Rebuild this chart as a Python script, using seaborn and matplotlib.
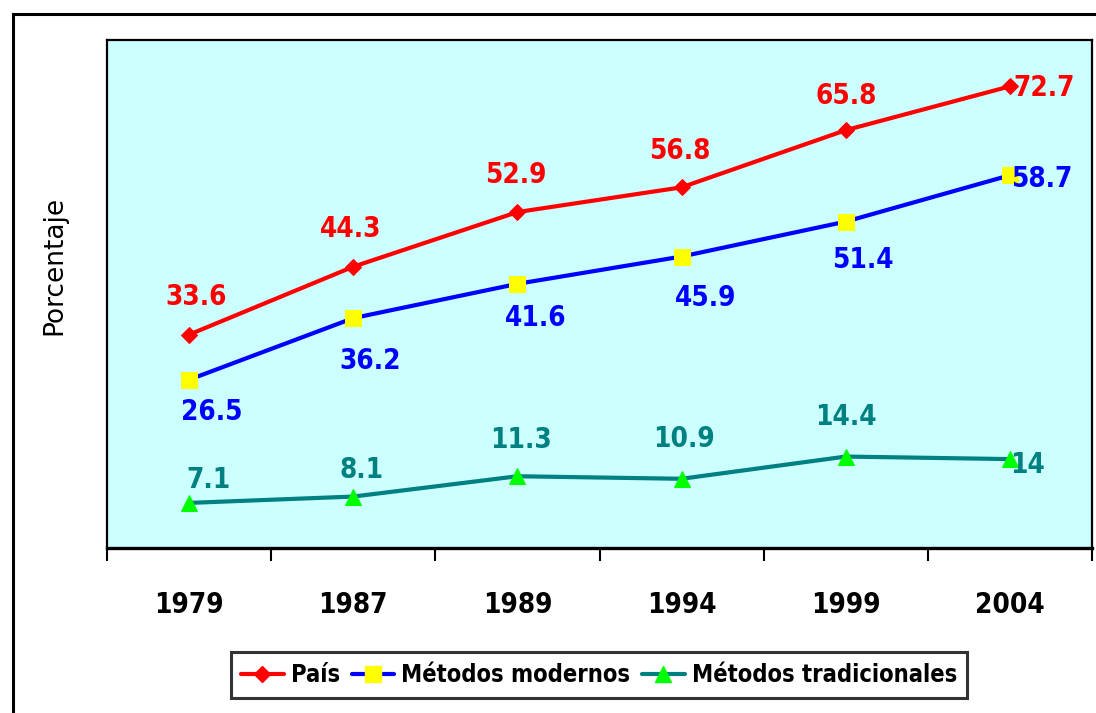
import matplotlib
matplotlib.use("Agg")
import matplotlib.pyplot as plt
import seaborn as sns
from matplotlib.lines import Line2D
from matplotlib.patches import Rectangle

years = ["1979", "1987", "1989", "1994", "1999", "2004"]
pais = [33.6, 44.3, 52.9, 56.8, 65.8, 72.7]
modernos = [26.5, 36.2, 41.6, 45.9, 51.4, 58.7]
tradicionales = [7.1, 8.1, 11.3, 10.9, 14.4, 14]
series_names = ["País", "Métodos modernos", "Métodos tradicionales"]

# label offsets in pixels (dx, dy) relative to each point
off_pais = [(7, 38), (-3, 38), (-2, 37), (-2, 36), (0, 34), (34, -2)]
off_mod = [(23, -32), (17, -43), (18, -34), (24, -41), (17, -38), (32, -4)]
off_trad = [(19, 23), (8, 27), (4, 36), (2, 40), (0, 40), (18, -6)]

sns.set_style("white")
plt.rcParams["font.family"] = ["DejaVu Sans"]
plt.rcParams["font.stretch"] = "condensed"
plt.rcParams["text.color"] = "black"

fig = plt.figure(figsize=(10.96, 7.13), dpi=100)
ax = fig.add_axes([107 / 1096, 1 - 548 / 713, 985 / 1096, 508 / 713])
ax.set_facecolor("#CCFFFF")

pos = list(range(len(years)))

sns.lineplot(x=pos, y=pais, ax=ax, color="#FF0000", linewidth=3,
             marker="D", markersize=8, markerfacecolor="#FF0000",
             markeredgecolor="#FF0000")
sns.lineplot(x=pos, y=modernos, ax=ax, color="#0000FF", linewidth=3,
             marker="s", markersize=12, markerfacecolor="#FFFF00",
             markeredgecolor="#FFFF00")
sns.lineplot(x=pos, y=tradicionales, ax=ax, color="#008080", linewidth=3,
             marker="^", markersize=12, markerfacecolor="#00FF00",
             markeredgecolor="#00FF00")

for vals, offs, col in [(pais, off_pais, "#FF0000"),
                        (modernos, off_mod, "#0000FF"),
                        (tradicionales, off_trad, "#008080")]:
    for i, v in enumerate(vals):
        ax.annotate(f"{v:g}", (pos[i], v), xytext=offs[i],
                    textcoords="offset pixels", ha="center", va="center",
                    color=col, fontsize=20, fontweight="bold",
                    fontstretch="condensed")

ax.set_xlim(-0.5, len(years) - 0.5)
ax.set_ylim(0, 80)
ax.set_yticks([])
ax.set_xticks(pos)
ax.set_xticklabels(years, fontsize=20, fontweight="bold",
                   fontstretch="condensed", color="black")
ax.set_xticks([p - 0.5 for p in pos] + [len(years) - 0.5], minor=True)
ax.tick_params(axis="x", which="major", length=0, pad=31)
ax.tick_params(axis="x", which="minor", length=9, width=1.5,
               direction="out", color="black", bottom=True)

for side in ["left", "top", "right"]:
    ax.spines[side].set_color("black")
    ax.spines[side].set_linewidth(1.6)
ax.spines["bottom"].set_color("black")
ax.spines["bottom"].set_linewidth(2.4)

ax.set_xlabel("")
ax.set_ylabel("Porcentaje", fontsize=19, family="DejaVu Sans",
              fontstretch="normal", color="black")
ax.yaxis.set_label_coords(-0.04, 0.557)

handles = [
    Line2D([], [], color="#FF0000", linewidth=3, marker="D", markersize=8,
           markerfacecolor="#FF0000", markeredgecolor="#FF0000"),
    Line2D([], [], color="#0000FF", linewidth=3, marker="s", markersize=12,
           markerfacecolor="#FFFF00", markeredgecolor="#FFFF00"),
    Line2D([], [], color="#008080", linewidth=3, marker="^", markersize=12,
           markerfacecolor="#00FF00", markeredgecolor="#00FF00"),
]
leg = fig.legend(handles, series_names, loc="center",
                 bbox_to_anchor=(599 / 1096, 1 - 675 / 713), ncol=3,
                 frameon=True, fancybox=False, handlelength=1.8,
                 handletextpad=0.3, columnspacing=0.5, borderpad=0.45,
                 prop={"weight": "bold", "size": 17, "stretch": "condensed"})
leg.get_frame().set_edgecolor("black")
leg.get_frame().set_linewidth(2.2)
for t in leg.get_texts():
    t.set_color("black")

# outer frame (cut off at right and bottom)
fig.add_artist(Rectangle((13 / 1096, -0.1), 1.2, (1 - 14 / 713) + 0.1,
                         transform=fig.transFigure, fill=False,
                         edgecolor="black", linewidth=2.2))

fig.savefig("out.png", dpi=100)
